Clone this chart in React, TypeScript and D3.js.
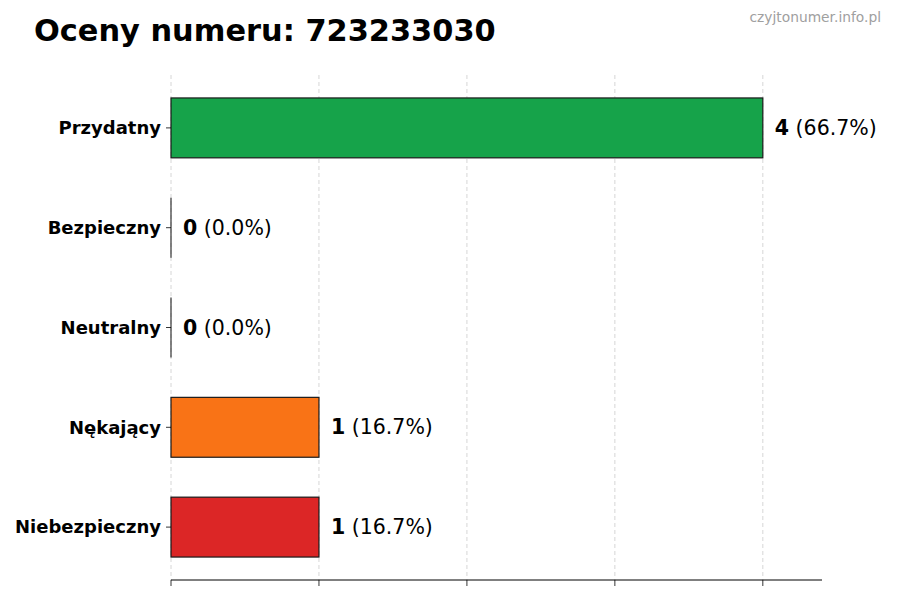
import React from "react";
import * as d3 from "d3";

const categories = ["Przydatny", "Bezpieczny", "Neutralny", "Nękający", "Niebezpieczny"];
const counts = [4, 0, 0, 1, 1];
const colors = ["#16a34a", "#16a34a", "#9ca3af", "#f97316", "#dc2626"];
const xTicks = [0, 1, 2, 3, 4];
const titleText = "Oceny numeru: 723233030";
const watermark = "czyjtonumer.info.pl";

const W = 900;
const H = 600;
const left = 171;
const right = 822;
const top = 75;
const bottom = 580;
const font = "'DejaVu Sans', sans-serif";

export default function App() {
  const total = d3.sum(counts);
  const maxV = d3.max(counts) as number;
  const x = d3.scaleLinear().domain([0, maxV * 1.1]).range([left, right]);
  const y = d3.scaleLinear().domain([-0.53, categories.length - 1 + 0.53]).range([top, bottom]);
  const barH = y(0.3) - y(-0.3);

  return (
    <svg width={W} height={H} style={{ position: "absolute", left: 0, top: 0, background: "#fff" }} fontFamily={font}>
      <rect x={0} y={0} width={W} height={H} fill="#fff" />
      <text x={34} y={41} fontSize={30.4} fontWeight="bold" fill="#000">{titleText}</text>
      <text x={881} y={22} fontSize={13.8} fill="#a0a0a0" textAnchor="end">{watermark}</text>
      {xTicks.map((t) => (
        <line key={"g" + t} x1={x(t)} x2={x(t)} y1={top} y2={bottom} stroke="#cccccc" strokeWidth={0.8} strokeDasharray="4,3" />
      ))}
      {categories.map((c, i) => {
        const cy = y(i);
        const v = counts[i];
        const pct = total ? (v / total) * 100 : 0;
        return (
          <g key={c}>
            {v > 0 ? (
              <rect x={x(0)} y={cy - barH / 2} width={x(v) - x(0)} height={barH} fill={colors[i]} stroke="#1a1a1a" strokeWidth={1.2} />
            ) : (
              <line x1={x(0)} x2={x(0)} y1={cy - barH / 2} y2={cy + barH / 2} stroke="#333" strokeWidth={1.2} />
            )}
            <line x1={left - 5} x2={left} y1={cy} y2={cy} stroke="#000" strokeWidth={0.8} />
            <text x={left - 10} y={cy} dy="0.35em" fontSize={18} fontWeight="bold" textAnchor="end" fill="#000">{c}</text>
            <text x={x(v) + 12} y={cy} dy="0.35em" fontSize={20.5} fill="#000">
              <tspan fontWeight="bold">{v}</tspan>
              <tspan>{` (${pct.toFixed(1)}%)`}</tspan>
            </text>
          </g>
        );
      })}
      <line x1={left} x2={right} y1={bottom} y2={bottom} stroke="#000" strokeWidth={1} />
      {xTicks.map((t) => (
        <line key={"t" + t} x1={x(t)} x2={x(t)} y1={bottom} y2={bottom + 6} stroke="#000" strokeWidth={0.8} />
      ))}
    </svg>
  );
}
